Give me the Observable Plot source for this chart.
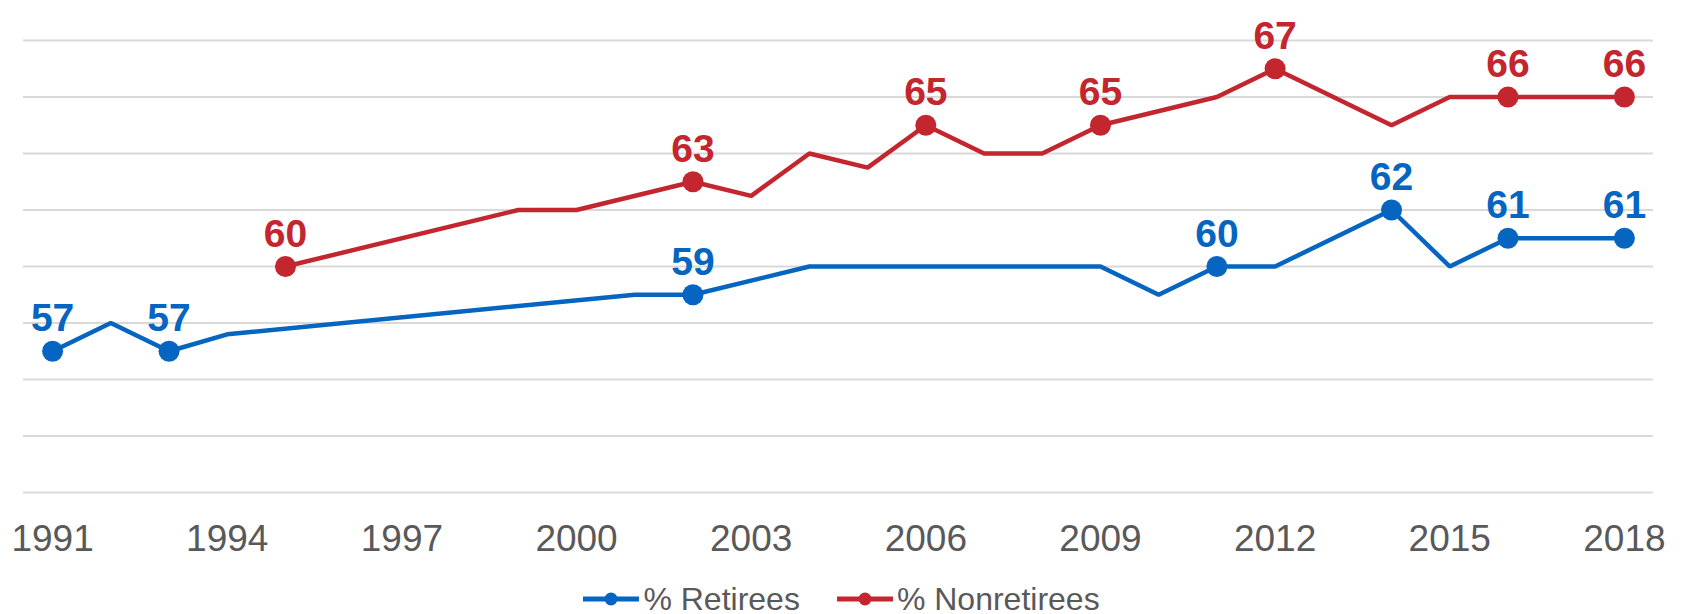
<!DOCTYPE html>
<html>
<head>
<meta charset="utf-8">
<script src="https://cdn.jsdelivr.net/npm/d3@7"></script>
<script src="https://cdn.jsdelivr.net/npm/@observablehq/plot@0.6"></script>
<style>
  html, body { margin: 0; padding: 0; background: #fff; }
  #chart { width: 1683px; height: 570px; }
  #legend { display: flex; justify-content: center; align-items: center; height: 30px; margin-top: 14px;
    font-family: "Liberation Sans", Arial, sans-serif; font-size: 32px; color: #595959; }
  .item { display: flex; align-items: center; }
  .item svg { margin-right: 4px; }
  .gap { width: 37px; }
</style>
</head>
<body>
<div id="chart"></div>
<div id="legend"></div>
<script>
// Series data
const retireeYears = [1991, 1992, 1993, 1994, 2001, 2002, 2004, 2009, 2010, 2011, 2012, 2014, 2015, 2016, 2018];
const retireeValues = [57, 58, 57, 57.6, 59, 59, 60, 60, 59, 60, 60, 62, 60, 61, 61];
const retireeLabeledYears = [1991, 1993, 2002, 2011, 2014, 2016, 2018];

const nonretireeYears = [1995, 1999, 2000, 2002, 2003, 2004, 2005, 2006, 2007, 2008, 2009, 2011, 2012, 2014, 2015, 2016, 2018];
const nonretireeValues = [60, 62, 62, 63, 62.5, 64, 63.5, 65, 64, 64, 65, 66, 67, 65, 66, 66, 66];
const nonretireeLabeledYears = [1995, 2002, 2006, 2009, 2012, 2016, 2018];

const seriesNames = ["% Retirees", "% Nonretirees"];
const seriesColors = ["#0565C0", "#C3262E"];

const xTicks = [1991, 1994, 1997, 2000, 2003, 2006, 2009, 2012, 2015, 2018];
const yGrid = [52, 54, 56, 58, 60, 62, 64, 66, 68];

const retirees = retireeYears.map((y, i) => ({year: y, value: retireeValues[i], series: seriesNames[0]}));
const nonretirees = nonretireeYears.map((y, i) => ({year: y, value: nonretireeValues[i], series: seriesNames[1]}));
const retLabeled = retirees.filter(d => retireeLabeledYears.includes(d.year));
const nonLabeled = nonretirees.filter(d => nonretireeLabeledYears.includes(d.year));

const font = "'Liberation Sans', Arial, sans-serif";

const chart = Plot.plot({
  width: 1683,
  height: 570,
  marginLeft: 23,
  marginRight: 30,
  marginTop: 40,
  marginBottom: 78,
  style: {fontFamily: font, background: "#fff", overflow: "visible"},
  x: {domain: [1990.5, 2018.5], label: null, axis: null},
  y: {domain: [52, 68], label: null, axis: null},
  marks: [
    Plot.gridY(yGrid, {stroke: "#d9d9d9", strokeOpacity: 1, strokeWidth: 2}),
    Plot.axisX({ticks: xTicks, tickFormat: d => String(d), tickSize: 0, tickPadding: 32,
      fontSize: 37, fill: "#595959", label: null, ariaLabel: "xticks"}),
    Plot.line(nonretirees, {x: "year", y: "value", stroke: seriesColors[1], strokeWidth: 4.5, strokeLinejoin: "miter"}),
    Plot.line(retirees, {x: "year", y: "value", stroke: seriesColors[0], strokeWidth: 4.5, strokeLinejoin: "miter"}),
    Plot.dot(nonLabeled, {x: "year", y: "value", r: 10.5, fill: seriesColors[1]}),
    Plot.dot(retLabeled, {x: "year", y: "value", r: 10.5, fill: seriesColors[0]}),
    Plot.text(nonLabeled, {x: "year", y: "value", text: d => String(Math.round(d.value)), dy: -20,
      lineAnchor: "bottom", fill: seriesColors[1], fontSize: 39, fontWeight: "bold", ariaLabel: "labels"}),
    Plot.text(retLabeled, {x: "year", y: "value", text: d => String(Math.round(d.value)), dy: -20,
      lineAnchor: "bottom", fill: seriesColors[0], fontSize: 39, fontWeight: "bold", ariaLabel: "labels"})
  ]
});
document.getElementById("chart").appendChild(chart);

// Condense the text horizontally (original uses a narrow face)
function condense(sel, k) {
  d3.select(chart).selectAll(sel).each(function() {
    const t = this.getAttribute("transform") || "";
    this.setAttribute("transform", (t + ` scale(${k},1)`).trim());
  });
}
condense('g[aria-label="labels"] text', 0.82);
condense('g[aria-label="xticks"] text', 0.9);

// Legend
const legend = document.getElementById("legend");
seriesNames.forEach((name, i) => {
  if (i > 0) { const g = document.createElement("div"); g.className = "gap"; legend.appendChild(g); }
  const item = document.createElement("div");
  item.className = "item";
  item.innerHTML = `<svg width="56" height="20"><line x1="0" x2="56" y1="10" y2="10" stroke="${seriesColors[i]}" stroke-width="5"/><circle cx="28" cy="10" r="6.5" fill="${seriesColors[i]}"/></svg><span>${name}</span>`;
  legend.appendChild(item);
});
</script>
</body>
</html>
